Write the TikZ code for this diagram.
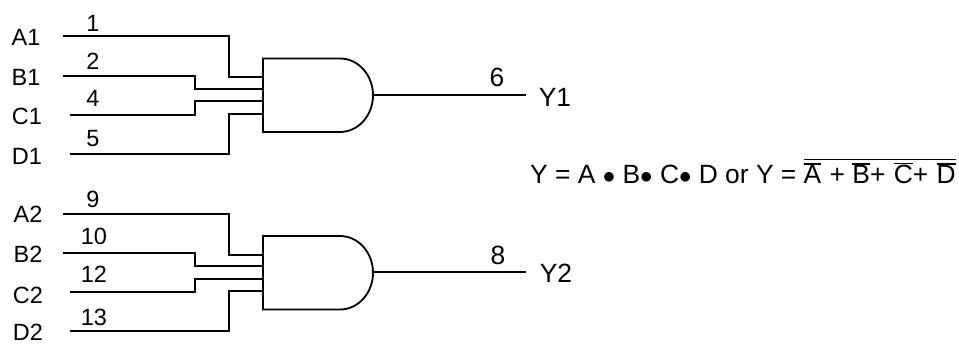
\documentclass[tikz,border=0pt]{standalone}
\usepackage{fontspec}
\setmainfont{Liberation Sans}
\tikzstyle{lbl}=[inner sep=0pt,font=\fontsize{23.5}{23.5}\selectfont]
\tikzstyle{biglbl}=[inner sep=0pt,font=\fontsize{26.4}{26.4}\selectfont]
\tikzstyle{wire}=[draw=black,line width=1.8pt,line join=miter]
\newcommand{\ovl}[2][0.6pt]{\leavevmode\vbox{\hrule height 1.6pt\kern #1\hbox{#2}}}

\begin{document}
\begin{tikzpicture}[x=1pt,y=-1pt]
    \useasboundingbox (0,0) rectangle (959,343);
    % upper gate
    \node (A1) at (26,37) [lbl]{A1};
    \node (B1) at (26,77) [lbl]{B1};
    \node (C1) at (27,116) [lbl]{C1};
    \node (D1) at (27,156) [lbl]{D1};
    \node (n1) at (93,23) [lbl]{1};
    \node (n2) at (93,61) [lbl]{2};
    \node (n4) at (93,98) [lbl]{4};
    \node (n5) at (93,139) [lbl]{5};
    \coordinate (a1) at (63,36);
    \coordinate (b1) at (63,76);
    \coordinate (c1) at (70,115);
    \coordinate (d1) at (70,154);
    \coordinate (a1k) at (229,77);
    \coordinate (b1k) at (195,89);
    \coordinate (c1k) at (195,101);
    \coordinate (d1k) at (229,114);
    \coordinate (a1p) at (263,77);
    \coordinate (b1p) at (263,89);
    \coordinate (c1p) at (263,101);
    \coordinate (d1p) at (263,114);
    \coordinate (g1t) at (263,58.5);
    \coordinate (g1b) at (263,132);
    \coordinate (g1o) at (373,95);
    \coordinate (y1) at (526,95);
    \draw[wire] (g1b) -- (g1t) -- (340,58.5)
        arc[start angle=90,end angle=-90,x radius=33pt,y radius=36.75pt] -- cycle;
    \draw[wire] (a1) -| (a1k) -- (a1p);
    \draw[wire] (b1) -| (b1k) -- (b1p);
    \draw[wire] (c1) -| (c1k) -- (c1p);
    \draw[wire] (d1) -| (d1k) -- (d1p);
    \draw[wire] (g1o) -- (y1);
    \node (n6) at (497,77.5) [biglbl]{6};
    \node (Y1) at (555,97) [biglbl]{Y1};
    % equation
    \node (eqn) at (530,183.3) [biglbl,anchor=base west]{Y = A $\bullet$ B$\bullet$ C$\bullet$ D or Y =
        \ovl[2.5pt]{\ovl{A}\kern1pt{} + \ovl{B}+\kern1pt{} \ovl{C}+\kern1pt{} \ovl{D}}};
    % lower gate
    \node (A2) at (28,214) [lbl]{A2};
    \node (B2) at (28,254) [lbl]{B2};
    \node (C2) at (28,295) [lbl]{C2};
    \node (D2) at (28,332) [lbl]{D2};
    \node (n9) at (93,199) [lbl]{9};
    \node (n10) at (94,236) [lbl]{10};
    \node (n12) at (94,274) [lbl]{12};
    \node (n13) at (94,317) [lbl]{13};
    \coordinate (a2) at (63,214);
    \coordinate (b2) at (63,253);
    \coordinate (c2) at (70,292);
    \coordinate (d2) at (70,331);
    \coordinate (a2k) at (229,255);
    \coordinate (b2k) at (195,266);
    \coordinate (c2k) at (195,279);
    \coordinate (d2k) at (229,291);
    \coordinate (a2p) at (263,255);
    \coordinate (b2p) at (263,266);
    \coordinate (c2p) at (263,279);
    \coordinate (d2p) at (263,291);
    \coordinate (g2t) at (263,236);
    \coordinate (g2b) at (263,309.5);
    \coordinate (g2o) at (373,272);
    \coordinate (y2) at (526,272);
    \draw[wire] (g2b) -- (g2t) -- (340,236)
        arc[start angle=90,end angle=-90,x radius=33pt,y radius=36.75pt] -- cycle;
    \draw[wire] (a2) -| (a2k) -- (a2p);
    \draw[wire] (b2) -| (b2k) -- (b2p);
    \draw[wire] (c2) -| (c2k) -- (c2p);
    \draw[wire] (d2) -| (d2k) -- (d2p);
    \draw[wire] (g2o) -- (y2);
    \node (n8) at (498,255) [biglbl]{8};
    \node (Y2) at (556,273.5) [biglbl]{Y2};
\end{tikzpicture}
\end{document}
